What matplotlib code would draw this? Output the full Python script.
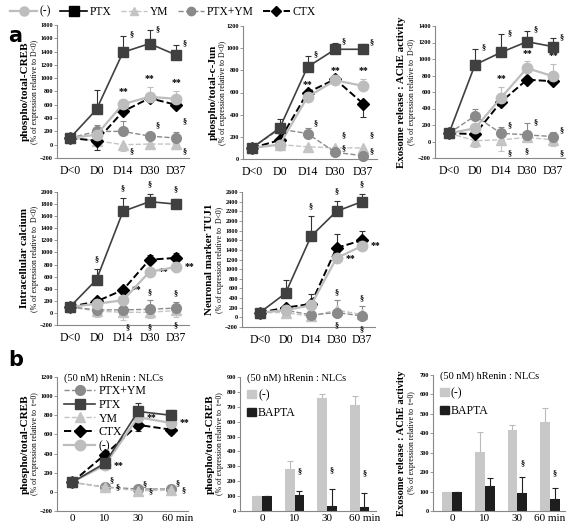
import numpy as np
import matplotlib.pyplot as plt
from matplotlib.lines import Line2D
from matplotlib.patches import Patch

plt.rcParams['font.family'] = ['Liberation Serif', 'DejaVu Serif']

W, H = 567, 527

# ---- data ----
days = ['D<0', 'D0', 'D14', 'D30', 'D37']
mins = ['0', '10', '30', '60 min']

creb_ptx = [100, 530, 1390, 1520, 1350]
creb_ptx_err = [0, 290, 250, 200, 150]
creb_neg = [100, 150, 610, 720, 690]
creb_neg_err = [0, 0, 60, 150, 120]
creb_ctx = [100, 60, 500, 700, 600]
creb_ctx_err = [0, -140, 0, 0, 0]
creb_ptxym = [100, 200, 200, 130, 100]
creb_ptxym_err = [0, 100, 160, 0, 90]
creb_ym = [100, 60, 0, 10, 10]
creb_ym_err = [0, 0, -100, 0, -80]

jun_ptx = [100, 280, 830, 990, 990]
jun_ptx_err = [0, 80, 100, 60, 50]
jun_neg = [100, 130, 560, 710, 660]
jun_neg_err = [0, 0, 0, 0, 60]
jun_ctx = [100, 170, 600, 720, 500]
jun_ctx_err = [0, 0, 0, 0, -120]
jun_ptxym = [100, 270, 230, 60, 30]
jun_ptxym_err = [0, 0, 50, 0, 0]
jun_ym = [100, 130, 110, 100, 100]
jun_ym_err = [0, 0, 0, 0, 0]

ache_ptx = [100, 930, 1080, 1210, 1150]
ache_ptx_err = [0, 190, 220, 130, 100]
ache_neg = [100, 160, 530, 890, 790]
ache_neg_err = [0, 0, 130, 80, 150]
ache_ctx = [100, 90, 480, 750, 730]
ache_ctx_err = [0, 0, 0, 0, 0]
ache_ptxym = [100, 310, 100, 80, 60]
ache_ptxym_err = [0, 80, 80, 140, 60]
ache_ym = [100, 10, 20, 50, 20]
ache_ym_err = [0, -80, -130, 0, -80]

ca_ptx = [100, 550, 1680, 1840, 1800]
ca_ptx_err = [0, 170, 220, 120, 80]
ca_neg = [100, 150, 210, 680, 760]
ca_neg_err = [0, 0, 0, 0, 0]
ca_ctx = [100, 190, 380, 880, 910]
ca_ctx_err = [0, 0, 0, 80, 80]
ca_ptxym = [100, 50, 50, 60, 80]
ca_ptxym_err = [0, 0, 0, 150, 100]
ca_ym = [100, 30, 10, 10, 40]
ca_ym_err = [0, -100, -120, -100, -100]

tuj_ptx = [100, 500, 1680, 2200, 2400]
tuj_ptx_err = [0, 280, 430, 220, 150]
tuj_neg = [100, 150, 250, 1230, 1480]
tuj_neg_err = [0, 0, 0, 0, 0]
tuj_ctx = [100, 200, 280, 1440, 1600]
tuj_ctx_err = [0, 0, 200, 280, 200]
tuj_ptxym = [100, 150, 50, 100, 30]
tuj_ptxym_err = [0, 0, 0, 250, 200]
tuj_ym = [100, 100, 20, 150, 60]
tuj_ym_err = [0, 0, 0, 0, 0]

b_ptx = [100, 300, 840, 800]
b_ptx_err = [0, 0, 90, 60]
b_ctx = [100, 390, 700, 650]
b_ctx_err = [0, 0, -60, -50]
b_neg = [100, 280, 780, 720]
b_neg_err = [0, 0, 0, 0]
b_ptxym = [100, 50, 30, 30]
b_ptxym_err = [0, 0, 0, 0]
b_ym = [100, 50, 10, 20]
b_ym_err = [0, 0, -30, 0]

creb_bar_neg = [100, 280, 760, 710]
creb_bar_neg_err = [0, 55, 25, 60]
creb_bar_bapta = [100, 105, 35, 30]
creb_bar_bapta_err = [0, 30, 110, 90]

ache_bar_neg = [100, 305, 415, 460]
ache_bar_neg_err = [0, 100, 30, 70]
ache_bar_bapta = [100, 128, 95, 60]
ache_bar_bapta_err = [0, 40, 80, 60]

# ---- styles ----
STY = {
    '(-)':    dict(color='#BDBDBD', marker='o', ls='-', lw=1.6, ms=7.5, z=4),
    'PTX':    dict(color='#404040', marker='s', ls='-', lw=1.2, ms=7.5, z=5),
    'YM':     dict(color='#C4C4C4', marker='^', ls='--', lw=1.0, ms=7, z=2),
    'PTX+YM': dict(color='#8A8A8A', marker='o', ls='--', lw=1.0, ms=7, z=2),
    'CTX':    dict(color='#000000', marker='D', ls='--', lw=1.4, ms=6, z=3),
}

fig = plt.figure(figsize=(W / 100, H / 100), dpi=100)


def make_ax(left, top, bottom, spacing, x0, n, ylim):
    # x0 = pixel of first category, spacing = pixels per category
    xl = -(x0 - left) / spacing
    xr = n - 1 + 0.5
    right = min(left + (xr - xl) * spacing, W - 2)
    xr = xl + (right - left) / spacing
    ax = fig.add_axes([left / W, 1 - bottom / H, (right - left) / W, (bottom - top) / H])
    ax.set_xlim(xl, xr)
    ax.set_ylim(*ylim)
    for s in ['top', 'right']:
        ax.spines[s].set_visible(False)
    for s in ['left', 'bottom']:
        ax.spines[s].set_color('#888888')
        ax.spines[s].set_linewidth(0.8)
    ax.tick_params(axis='y', labelsize=4.5, length=2, width=0.6, color='#888888', pad=1)
    ax.tick_params(axis='x', length=0, labelsize=8.5, pad=5)
    for t in ax.get_yticklabels():
        t.set_fontweight('bold')
    return ax


def ylab(ax, main, sub, d1=32, d2=22, fs1=8, fs2=5.6):
    ax.annotate(main, xy=(0, 0.5), xycoords='axes fraction', xytext=(-d1, 0),
                textcoords='offset pixels', rotation=90, ha='center', va='center',
                fontsize=fs1, fontweight='bold')
    ax.annotate(sub, xy=(0, 0.5), xycoords='axes fraction', xytext=(-d2, 0),
                textcoords='offset pixels', rotation=90, ha='center', va='center',
                fontsize=fs2)


def draw(ax, name, vals, errs):
    st = STY[name]
    x = np.arange(len(vals))
    v = np.array(vals, float)
    e = np.array(errs, float)
    lo = np.where(e < 0, -e, 0)
    up = np.where(e > 0, e, 0)
    ax.errorbar(x, v, yerr=[lo, up], fmt='none', ecolor='#333333' if name in ('PTX', 'CTX') else st['color'],
                elinewidth=0.8, capsize=2.5, capthick=0.8, zorder=st['z'] - 0.5)
    ax.plot(x, v, color=st['color'], ls=st['ls'], lw=st['lw'], marker=st['marker'],
            ms=st['ms'], mfc=st['color'], mec=st['color'], zorder=st['z'], clip_on=False)


def mark(ax, i, y, s, dx=0, dy=0, fs=7):
    ax.annotate(s, xy=(i, y), xytext=(dx, dy), textcoords='offset points',
                ha='center', va='center', fontsize=fs, fontweight='bold')


def line_panel(ax, series, xt):
    order = ['YM', 'PTX+YM', 'CTX', '(-)', 'PTX']
    for nm in order:
        draw(ax, nm, *series[nm])
    ax.set_xticks(range(len(xt)))
    ax.set_xticklabels(xt)


# ---- row 1 ----
a1 = make_ax(57, 25, 158, 26.5, 70, 5, (-200, 1800))
a1.set_yticks(range(-200, 1801, 200))
line_panel(a1, {'PTX': (creb_ptx, creb_ptx_err), '(-)': (creb_neg, creb_neg_err),
                'CTX': (creb_ctx, creb_ctx_err), 'PTX+YM': (creb_ptxym, creb_ptxym_err),
                'YM': (creb_ym, creb_ym_err)}, days)
ylab(a1, 'phospho/total-CREB', '(% of expression relative to D<0)')
for i in (2, 3, 4):
    mark(a1, i, creb_ptx[i] + creb_ptx_err[i], '§', dx=6, dy=1, fs=6)
    mark(a1, i, creb_neg[i] + creb_neg_err[i], '**', dy=6)
for i in (3, 4):
    mark(a1, i, creb_ptxym[i] + creb_ptxym_err[i], '§', dx=6, dy=8, fs=6)
for i in (2, 4):
    mark(a1, i, creb_ym[i], '§', dx=6, dy=-5, fs=6)

a2 = make_ax(243, 26, 159, 27.75, 252, 5, (0, 1200))
a2.set_yticks(range(0, 1201, 200))
line_panel(a2, {'PTX': (jun_ptx, jun_ptx_err), '(-)': (jun_neg, jun_neg_err),
                'CTX': (jun_ctx, jun_ctx_err), 'PTX+YM': (jun_ptxym, jun_ptxym_err),
                'YM': (jun_ym, jun_ym_err)}, days)
ylab(a2, 'phospho/total-c-Jun', '(% of expression relative to D<0)', d1=30, d2=20)
for i in (2, 3, 4):
    mark(a2, i, jun_ptx[i] + jun_ptx_err[i], '§', dx=6, dy=1, fs=6)
    mark(a2, i, max(jun_neg[i] + jun_neg_err[i], jun_ctx[i]), '**', dy=6)
mark(a2, 2, jun_ptxym[2] + jun_ptxym_err[2], '§', dx=6, dy=3, fs=6)
for i in (3, 4):
    mark(a2, i, jun_ym[i], '§', dx=6, dy=9, fs=6)
    mark(a2, i, jun_ptxym[i], '§', dx=6, dy=3, fs=6)

a3 = make_ax(435, 26, 158, 26, 449, 5, (-200, 1400))
a3.set_yticks(range(-200, 1401, 200))
line_panel(a3, {'PTX': (ache_ptx, ache_ptx_err), '(-)': (ache_neg, ache_neg_err),
                'CTX': (ache_ctx, ache_ctx_err), 'PTX+YM': (ache_ptxym, ache_ptxym_err),
                'YM': (ache_ym, ache_ym_err)}, days)
ylab(a3, 'Exosome release : AChE activity', '(% of expression relative to  D<0)', d1=34, d2=23, fs1=7.8)
for i in (1, 2, 3, 4):
    mark(a3, i, ache_ptx[i] + ache_ptx_err[i], '§', dx=6, dy=1, fs=6)
for i in (2, 3, 4):
    mark(a3, i, ache_neg[i] + ache_neg_err[i], '**', dy=6)
    mark(a3, i, ache_ptxym[i] + ache_ptxym_err[i], '§', dx=6, dy=1, fs=6)
    mark(a3, i, ache_ym[i], '§', dx=6 if i != 3 else 0, dy=-10, fs=6)

# ---- row 2 ----
a4 = make_ax(57, 192, 325, 26.5, 70, 5, (-200, 2000))
a4.set_yticks(range(-200, 2001, 200))
line_panel(a4, {'PTX': (ca_ptx, ca_ptx_err), '(-)': (ca_neg, ca_neg_err),
                'CTX': (ca_ctx, ca_ctx_err), 'PTX+YM': (ca_ptxym, ca_ptxym_err),
                'YM': (ca_ym, ca_ym_err)}, days)
ylab(a4, 'Intracellular calcium', '(% of expression relative to  D<0)')
for i in (1, 2, 3, 4):
    mark(a4, i, ca_ptx[i] + ca_ptx_err[i], '§', dy=7, fs=6)
mark(a4, 2, ca_ctx[2], '**', dx=10)
for i in (3, 4):
    mark(a4, i, ca_neg[i], '**', dx=10)
    mark(a4, i, ca_ptxym[i] + ca_ptxym_err[i], '§', dy=6, fs=6)
for i in (2, 3, 4):
    mark(a4, i, ca_ym[i], '§', dx=3 if i == 2 else 0, dy=-11, fs=6)

a5 = make_ax(242, 192, 327, 25.5, 260, 5, (-200, 2600))
a5.set_yticks(range(-200, 2601, 200))
line_panel(a5, {'PTX': (tuj_ptx, tuj_ptx_err), '(-)': (tuj_neg, tuj_neg_err),
                'CTX': (tuj_ctx, tuj_ctx_err), 'PTX+YM': (tuj_ptxym, tuj_ptxym_err),
                'YM': (tuj_ym, tuj_ym_err)}, days)
ylab(a5, 'Neuronal marker TUJ1', '(% of expression relative to  D<0)', d1=32, d2=22)
for i in (2, 3, 4):
    mark(a5, i, tuj_ptx[i] + tuj_ptx_err[i], '§', dy=7, fs=6)
for i in (3, 4):
    mark(a5, i, tuj_neg[i], '**', dx=10)
    mark(a5, i, tuj_ptxym[i] + tuj_ptxym_err[i], '§', dy=6, fs=6)
    mark(a5, i, tuj_ym[i], '§', dy=-11, fs=6)

# ---- row 3 ----
b1 = make_ax(57, 377, 511, 33, 72, 4, (-200, 1200))
b1.set_yticks(range(-200, 1201, 200))
for nm, (v, e) in {'PTX+YM': (b_ptxym, b_ptxym_err), 'YM': (b_ym, b_ym_err),
                   'CTX': (b_ctx, b_ctx_err), '(-)': (b_neg, b_neg_err),
                   'PTX': (b_ptx, b_ptx_err)}.items():
    draw(b1, nm, v, e)
b1.set_xticks([0, 1, 2, 3.2])
b1.set_xticklabels(mins)
b1.tick_params(axis='x', pad=2, labelsize=8)
ylab(b1, 'phospho/total-CREB', '(% of expression relative to  t=0)')
for i in (1, 2, 3):
    mark(b1, i, b_neg[i], '**', dx=10)
    mark(b1, i, b_ym[i], '§', dx=5, dy=5, fs=6)
    mark(b1, i, b_ym[i], '§', dx=9, dy=0, fs=6)
leg_order = ['PTX+YM', 'PTX', 'YM', 'CTX', '(-)']
hs = [Line2D([], [], color=STY[n]['color'], ls=STY[n]['ls'], lw=STY[n]['lw'],
             marker=STY[n]['marker'], ms=STY[n]['ms'], mfc=STY[n]['color'], mec=STY[n]['color'])
      for n in leg_order]
lg = b1.legend(hs, leg_order, loc='upper left', bbox_to_anchor=(0.02, 1.06), frameon=False,
               fontsize=8.5, title='(50 nM) hRenin : NLCs', title_fontsize=7.5,
               handlelength=2.6, labelspacing=0.15, borderaxespad=0, handletextpad=0.3)
lg._legend_box.align = 'left'


def bar_panel(ax, neg, neg_err, bap, bap_err, last_tick):
    x = np.arange(len(neg))
    w = 0.3
    ax.bar(x - w / 2, neg, w, color='#C8C8C8', zorder=2)
    ax.bar(x + w / 2, bap, w, color='#1E1E1E', zorder=2)
    ax.errorbar(x - w / 2, neg, yerr=[np.zeros(len(neg)), neg_err], fmt='none',
                ecolor='#BBBBBB', elinewidth=0.8, capsize=2.5, capthick=0.8, zorder=1)
    ax.errorbar(x + w / 2, bap, yerr=[np.zeros(len(bap)), bap_err], fmt='none',
                ecolor='#222222', elinewidth=0.8, capsize=2.5, capthick=0.8, zorder=3)
    ax.set_xticks([0, 1, 2, last_tick])
    ax.set_xticklabels(mins)
    ax.tick_params(axis='x', pad=2, labelsize=8)
    hs = [Patch(color='#C8C8C8'), Patch(color='#1E1E1E')]
    lg = ax.legend(hs, ['(-)', 'BAPTA'], loc='upper left', bbox_to_anchor=(0.02, 1.06),
                   frameon=False, fontsize=8.5, title='(50 nM) hRenin : NLCs', title_fontsize=7.5,
                   handlelength=0.7, handleheight=0.7, labelspacing=0.5, borderaxespad=0,
                   handletextpad=0.2)
    lg._legend_box.align = 'left'


b2 = make_ax(240, 377, 511, 32.5, 262, 4, (0, 900))
b2.set_yticks(range(0, 901, 100))
bar_panel(b2, creb_bar_neg, creb_bar_neg_err, creb_bar_bapta, creb_bar_bapta_err, 3.15)
ylab(b2, 'phospho/total-CREB', '(% of expression relative to  t=0)', d1=30, d2=20)
for i in (1, 2, 3):
    mark(b2, i + 0.15, creb_bar_bapta[i] + creb_bar_bapta_err[i], '§', dy=14, fs=6)

b3 = make_ax(433, 375, 511, 32.7, 452, 4, (0, 700))
b3.set_yticks(range(0, 701, 100))
bar_panel(b3, ache_bar_neg, ache_bar_neg_err, ache_bar_bapta, ache_bar_bapta_err, 3.0)
ylab(b3, 'Exosome release : AChE activity', '(% of expression relative to  t=0)', d1=32, d2=21, fs1=7.6)
for i in (2, 3):
    mark(b3, i + 0.15, ache_bar_bapta[i] + ache_bar_bapta_err[i], '§', dy=10, fs=6)

# ---- top legend and panel letters ----
top_order = ['(-)', 'PTX', 'YM', 'PTX+YM', 'CTX']
th = [Line2D([], [], color=STY[n]['color'] if n != 'PTX' else '#000000', ls=STY[n]['ls'],
             lw=STY[n]['lw'], marker=STY[n]['marker'], ms=STY[n]['ms'] - 1,
             mfc=STY[n]['color'] if n != 'PTX' else '#000000',
             mec=STY[n]['color'] if n != 'PTX' else '#000000') for n in top_order]
fig.legend(th, top_order, loc='upper left', bbox_to_anchor=(0.01, 0.998), ncol=5, frameon=False,
           fontsize=8.3, handlelength=2.3, columnspacing=0.8, handletextpad=0.25, borderaxespad=0)

fig.text(8 / W, 1 - 36 / H, 'a', fontsize=15, fontweight='bold', family='DejaVu Sans',
         va='center', ha='left')
fig.text(8 / W, 1 - 360 / H, 'b', fontsize=15, fontweight='bold', family='DejaVu Sans',
         va='center', ha='left')

fig.savefig('out.png', dpi=100)
